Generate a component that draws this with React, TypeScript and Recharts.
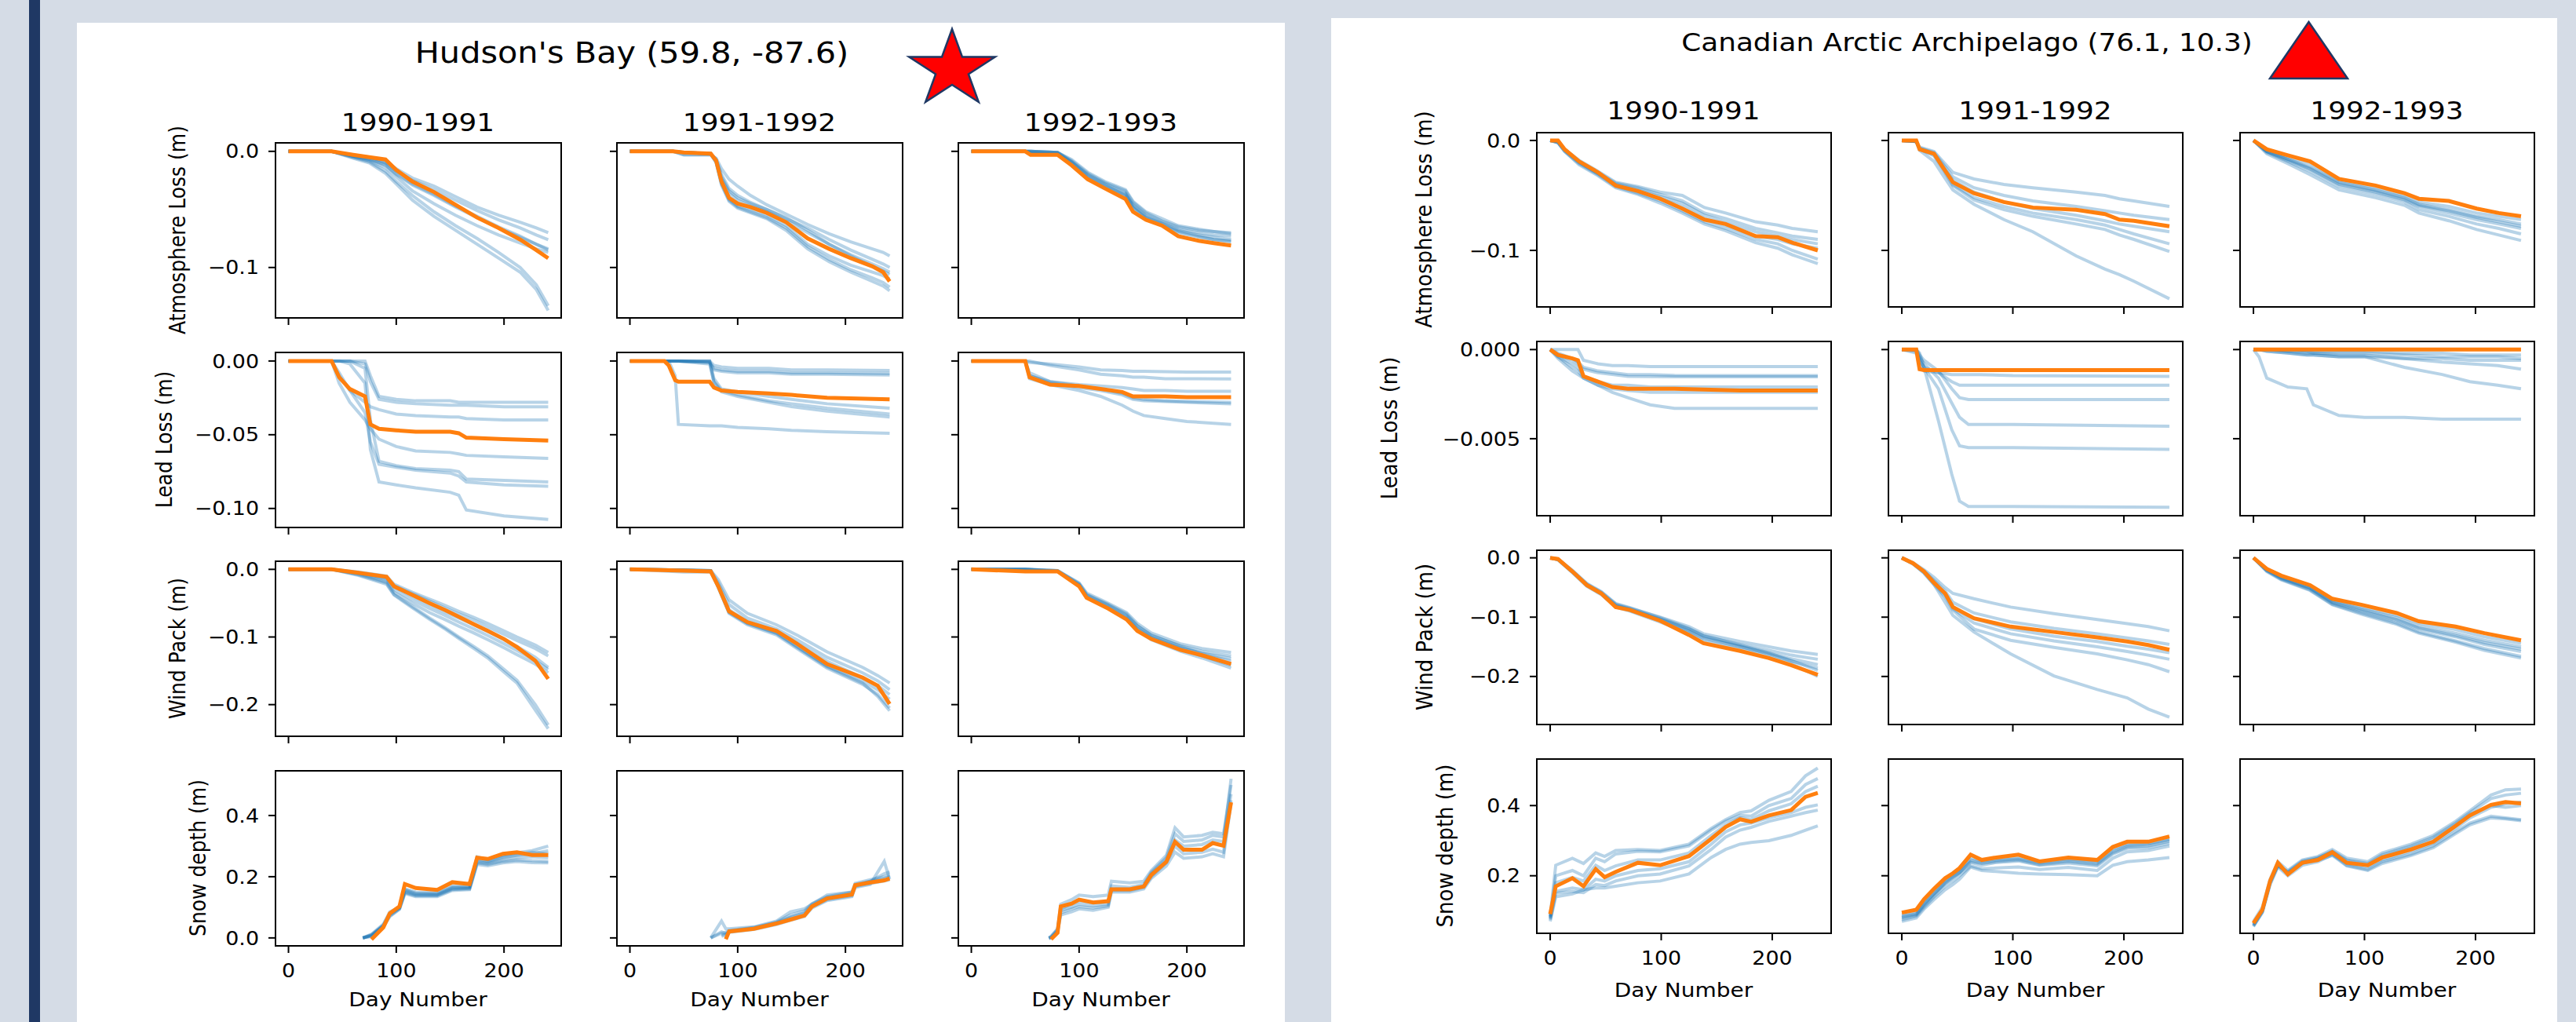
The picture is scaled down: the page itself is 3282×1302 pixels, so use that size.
import React from 'react';
import { LineChart, Line, XAxis, YAxis, ReferenceArea } from 'recharts';

// ---------------- shared labels ----------------
const YEARS = ['1990-1991', '1991-1992', '1992-1993'];
const ROW_LABELS = ['Atmosphere Loss (m)', 'Lead Loss (m)', 'Wind Pack (m)', 'Snow depth (m)'];
const HB_TITLE = "Hudson's Bay (59.8, -87.6)";
const CAA_TITLE = 'Canadian Arctic Archipelago (76.1, 10.3)';
const X_LABEL = 'Day Number';
const X_TICKS = [0, 100, 200];
const X_TICK_LABELS = ['0', '100', '200'];
const X_DOMAIN: [number, number] = [-12.05, 253.05];

const HB_Y_TICKS = [[0, -0.1], [0, -0.05, -0.1], [0, -0.1, -0.2], [0, 0.2, 0.4]];
const HB_Y_TICK_LABELS = [['0.0', '\u22120.1'], ['0.00', '\u22120.05', '\u22120.10'], ['0.0', '\u22120.1', '\u22120.2'], ['0.0', '0.2', '0.4']];
const HB_Y_DOMAINS: [number, number][] = [[-0.1434, 0.0073], [-0.1129, 0.0058], [-0.2468, 0.012], [-0.026, 0.546]];
const CAA_Y_TICKS = [[0, -0.1], [0, -0.005], [0, -0.1, -0.2], [0.2, 0.4]];
const CAA_Y_TICK_LABELS = [['0.0', '\u22120.1'], ['0.000', '\u22120.005'], ['0.0', '\u22120.1', '\u22120.2'], ['0.2', '0.4']];
const CAA_Y_DOMAINS: [number, number][] = [[-0.1514, 0.0071], [-0.00932, 0.000455], [-0.281, 0.0128], [0.036, 0.5326]];

// ---------------- Hudson's Bay data ----------------
const HB_ATM_1_DAYS = [0, 40, 60, 75, 90, 100, 115, 135, 155, 175, 195, 215, 230, 241];
const HB_ATM_1_ORANGE = [0, 0, -0.003, -0.005, -0.007, -0.016, -0.026, -0.035, -0.046, -0.057, -0.066, -0.076, -0.085, -0.092];
const HB_ATM_1_BLUE = [
  [0, 0, -0.003, -0.005, -0.009, -0.015, -0.023, -0.030, -0.039, -0.048, -0.055, -0.061, -0.066, -0.070],
  [0, 0, -0.004, -0.006, -0.010, -0.017, -0.025, -0.033, -0.042, -0.051, -0.059, -0.066, -0.072, -0.076],
  [0, 0, -0.004, -0.007, -0.012, -0.020, -0.029, -0.038, -0.048, -0.057, -0.066, -0.074, -0.080, -0.084],
  [0, 0, -0.005, -0.008, -0.014, -0.022, -0.034, -0.045, -0.055, -0.064, -0.072, -0.079, -0.084, -0.087],
  [0, 0, -0.005, -0.009, -0.017, -0.026, -0.038, -0.052, -0.064, -0.075, -0.087, -0.100, -0.115, -0.133],
  [0, 0, -0.006, -0.010, -0.019, -0.028, -0.042, -0.056, -0.068, -0.080, -0.092, -0.104, -0.119, -0.137],
  [0, 0, -0.004, -0.007, -0.011, -0.019, -0.028, -0.037, -0.047, -0.056, -0.065, -0.073, -0.080, -0.085],
];
const HB_ATM_2_DAYS = [0, 40, 50, 75, 80, 85, 92, 100, 112, 127, 145, 165, 185, 205, 225, 235, 241];
const HB_ATM_2_ORANGE = [0, 0, -0.001, -0.002, -0.008, -0.026, -0.040, -0.045, -0.048, -0.053, -0.061, -0.075, -0.084, -0.092, -0.099, -0.104, -0.112];
const HB_ATM_2_BLUE = [
  [0, 0, -0.003, -0.003, -0.006, -0.015, -0.024, -0.030, -0.038, -0.046, -0.054, -0.063, -0.071, -0.078, -0.084, -0.087, -0.090],
  [0, 0, -0.001, -0.002, -0.007, -0.020, -0.032, -0.038, -0.044, -0.050, -0.058, -0.066, -0.076, -0.085, -0.093, -0.097, -0.100],
  [0, 0, -0.001, -0.002, -0.008, -0.024, -0.036, -0.042, -0.047, -0.052, -0.060, -0.070, -0.080, -0.089, -0.097, -0.101, -0.104],
  [0, 0, -0.003, -0.003, -0.009, -0.027, -0.041, -0.047, -0.050, -0.055, -0.064, -0.080, -0.090, -0.098, -0.104, -0.107, -0.110],
  [0, 0, -0.001, -0.002, -0.009, -0.028, -0.042, -0.048, -0.052, -0.057, -0.066, -0.082, -0.093, -0.102, -0.109, -0.113, -0.117],
  [0, 0, -0.001, -0.002, -0.010, -0.029, -0.043, -0.049, -0.053, -0.058, -0.068, -0.084, -0.095, -0.104, -0.112, -0.116, -0.120],
  [0, 0, -0.001, -0.002, -0.007, -0.022, -0.034, -0.040, -0.045, -0.050, -0.057, -0.068, -0.080, -0.090, -0.099, -0.103, -0.106],
];
const HB_ATM_3_DAYS = [0, 50, 55, 80, 93, 108, 124, 143, 150, 162, 177, 192, 211, 225, 241];
const HB_ATM_3_ORANGE = [0, 0, -0.003, -0.003, -0.012, -0.024, -0.032, -0.041, -0.052, -0.059, -0.064, -0.073, -0.077, -0.079, -0.081];
const HB_ATM_3_BLUE = [
  [0, 0, 0, -0.001, -0.008, -0.019, -0.027, -0.034, -0.044, -0.053, -0.060, -0.065, -0.068, -0.069, -0.070],
  [0, 0, 0, -0.001, -0.009, -0.020, -0.028, -0.036, -0.046, -0.055, -0.061, -0.067, -0.070, -0.072, -0.073],
  [0, 0, -0.001, -0.002, -0.010, -0.022, -0.030, -0.037, -0.048, -0.057, -0.062, -0.068, -0.072, -0.074, -0.076],
  [0, 0, 0, -0.001, -0.009, -0.021, -0.029, -0.038, -0.047, -0.056, -0.063, -0.069, -0.073, -0.076, -0.078],
  [0, 0, 0, -0.001, -0.007, -0.018, -0.026, -0.033, -0.043, -0.052, -0.058, -0.064, -0.067, -0.069, -0.071],
  [0, 0, -0.001, -0.002, -0.011, -0.023, -0.031, -0.039, -0.049, -0.058, -0.064, -0.070, -0.074, -0.076, -0.077],
];

const HB_LEAD_1_DAYS = [0, 40, 47, 57, 71, 76, 84, 100, 118, 150, 158, 165, 200, 241];
const HB_LEAD_1_ORANGE = [0, 0, -0.011, -0.019, -0.024, -0.043, -0.046, -0.047, -0.048, -0.048, -0.049, -0.052, -0.053, -0.054];
const HB_LEAD_1_BLUE = [
  [0, 0, 0, 0, 0, -0.010, -0.024, -0.026, -0.027, -0.027, -0.028, -0.028, -0.028, -0.028],
  [0, 0, 0, 0, -0.002, -0.014, -0.026, -0.028, -0.029, -0.030, -0.030, -0.030, -0.031, -0.031],
  [0, 0, -0.010, -0.020, -0.028, -0.031, -0.033, -0.036, -0.037, -0.038, -0.038, -0.039, -0.040, -0.040],
  [0, 0, -0.015, -0.028, -0.040, -0.046, -0.053, -0.058, -0.061, -0.062, -0.063, -0.064, -0.065, -0.066],
  [0, 0, 0, 0, -0.005, -0.040, -0.068, -0.071, -0.073, -0.074, -0.075, -0.080, -0.081, -0.082],
  [0, 0, -0.008, -0.020, -0.035, -0.055, -0.070, -0.072, -0.074, -0.076, -0.078, -0.082, -0.084, -0.085],
  [0, 0, 0, -0.002, -0.015, -0.060, -0.082, -0.084, -0.086, -0.089, -0.091, -0.101, -0.105, -0.1075],
];
const HB_LEAD_2_DAYS = [0, 32, 36, 42, 45, 74, 78, 85, 100, 129, 150, 183, 241];
const HB_LEAD_2_ORANGE = [0, 0, -0.003, -0.013, -0.014, -0.014, -0.018, -0.020, -0.021, -0.022, -0.023, -0.025, -0.026];
const HB_LEAD_2_BLUE = [
  [0, 0, 0, 0, 0, 0, -0.003, -0.004, -0.005, -0.005, -0.006, -0.006, -0.0065],
  [0, 0, 0, 0, 0, -0.001, -0.005, -0.006, -0.007, -0.007, -0.008, -0.008, -0.0085],
  [0, 0, 0, 0, 0, -0.001, -0.006, -0.007, -0.008, -0.008, -0.009, -0.009, -0.0095],
  [0, 0, 0, 0, 0, 0, -0.012, -0.019, -0.021, -0.024, -0.026, -0.029, -0.032],
  [0, 0, 0, 0, 0, -0.002, -0.014, -0.020, -0.023, -0.027, -0.029, -0.032, -0.036],
  [0, 0, 0, 0, 0, 0, -0.015, -0.021, -0.024, -0.028, -0.031, -0.034, -0.038],
  [0, 0, 0, -0.010, -0.043, -0.044, -0.044, -0.044, -0.045, -0.046, -0.047, -0.048, -0.049],
];
const HB_LEAD_3_DAYS = [0, 50, 54, 73, 100, 120, 140, 150, 160, 180, 200, 241];
const HB_LEAD_3_ORANGE = [0, 0, -0.011, -0.016, -0.017, -0.019, -0.021, -0.024, -0.024, -0.024, -0.0245, -0.0246];
const HB_LEAD_3_BLUE = [
  [0, 0, -0.001, -0.002, -0.004, -0.006, -0.0065, -0.007, -0.007, -0.0072, -0.0075, -0.0075],
  [0, 0, 0, -0.003, -0.006, -0.009, -0.010, -0.011, -0.011, -0.012, -0.012, -0.0121],
  [0, 0, -0.010, -0.014, -0.016, -0.017, -0.018, -0.019, -0.020, -0.020, -0.0205, -0.0205],
  [0, 0, -0.008, -0.014, -0.017, -0.019, -0.022, -0.025, -0.026, -0.027, -0.0275, -0.028],
  [0, 0, -0.010, -0.015, -0.018, -0.020, -0.023, -0.026, -0.027, -0.0275, -0.028, -0.029],
  [0, 0, -0.012, -0.016, -0.020, -0.024, -0.030, -0.034, -0.037, -0.039, -0.041, -0.043],
];

const HB_WIND_1_DAYS = [0, 40, 65, 91, 98, 115, 131, 145, 158, 172, 185, 200, 212, 229, 241];
const HB_WIND_1_ORANGE = [0, 0, -0.005, -0.011, -0.025, -0.038, -0.050, -0.060, -0.070, -0.081, -0.091, -0.103, -0.115, -0.135, -0.162];
const HB_WIND_1_BLUE = [
  [0, 0, -0.004, -0.010, -0.022, -0.034, -0.044, -0.053, -0.062, -0.071, -0.080, -0.091, -0.100, -0.112, -0.123],
  [0, 0, -0.005, -0.012, -0.024, -0.036, -0.047, -0.057, -0.066, -0.075, -0.085, -0.096, -0.105, -0.117, -0.128],
  [0, 0, -0.006, -0.015, -0.030, -0.045, -0.058, -0.068, -0.078, -0.088, -0.098, -0.110, -0.120, -0.135, -0.148],
  [0, 0, -0.007, -0.018, -0.034, -0.050, -0.064, -0.074, -0.084, -0.094, -0.104, -0.116, -0.126, -0.140, -0.153],
  [0, 0, -0.008, -0.020, -0.037, -0.055, -0.072, -0.086, -0.100, -0.114, -0.128, -0.148, -0.164, -0.200, -0.230],
  [0, 0, -0.009, -0.022, -0.038, -0.057, -0.074, -0.088, -0.102, -0.117, -0.131, -0.152, -0.168, -0.208, -0.2355],
  [0, 0, -0.005, -0.013, -0.026, -0.040, -0.053, -0.063, -0.072, -0.082, -0.092, -0.104, -0.114, -0.130, -0.145],
];
const HB_WIND_2_DAYS = [0, 50, 75, 82, 92, 109, 136, 156, 183, 216, 230, 241];
const HB_WIND_2_ORANGE = [0, -0.002, -0.003, -0.025, -0.062, -0.078, -0.091, -0.111, -0.140, -0.160, -0.172, -0.199];
const HB_WIND_2_BLUE = [
  [0, -0.001, -0.002, -0.015, -0.045, -0.065, -0.082, -0.098, -0.122, -0.145, -0.157, -0.168],
  [0, -0.001, -0.002, -0.020, -0.052, -0.072, -0.088, -0.105, -0.130, -0.153, -0.165, -0.178],
  [0, -0.004, -0.004, -0.024, -0.060, -0.077, -0.092, -0.110, -0.136, -0.160, -0.172, -0.185],
  [0, -0.001, -0.002, -0.026, -0.064, -0.080, -0.094, -0.115, -0.143, -0.165, -0.178, -0.192],
  [0, -0.001, -0.003, -0.027, -0.065, -0.082, -0.097, -0.118, -0.146, -0.170, -0.185, -0.205],
  [0, -0.001, -0.002, -0.026, -0.063, -0.080, -0.095, -0.116, -0.144, -0.168, -0.188, -0.209],
];
const HB_WIND_3_DAYS = [0, 50, 80, 100, 107, 127, 144, 154, 167, 194, 214, 241];
const HB_WIND_3_ORANGE = [0, -0.003, -0.003, -0.025, -0.042, -0.058, -0.074, -0.091, -0.103, -0.119, -0.127, -0.140];
const HB_WIND_3_BLUE = [
  [0, 0, -0.002, -0.020, -0.035, -0.050, -0.064, -0.080, -0.094, -0.110, -0.117, -0.123],
  [0, 0, -0.002, -0.022, -0.038, -0.053, -0.068, -0.084, -0.098, -0.113, -0.121, -0.128],
  [0, 0, -0.003, -0.023, -0.040, -0.055, -0.070, -0.087, -0.100, -0.116, -0.124, -0.132],
  [0, 0, -0.002, -0.021, -0.037, -0.052, -0.066, -0.083, -0.097, -0.114, -0.125, -0.136],
  [0, -0.001, -0.003, -0.024, -0.041, -0.057, -0.072, -0.089, -0.102, -0.118, -0.128, -0.142],
  [0, 0, -0.003, -0.024, -0.042, -0.058, -0.073, -0.090, -0.104, -0.121, -0.131, -0.146],
];

const HB_SNOW_1_DAYS = [69, 77, 88, 94, 103, 108, 118, 138, 152, 168, 175, 185, 199, 212, 226, 241];
const HB_SNOW_1_ORANGE = [null, -0.005, 0.034, 0.080, 0.103, 0.176, 0.163, 0.157, 0.182, 0.176, 0.262, 0.258, 0.275, 0.280, 0.271, 0.271];
const HB_SNOW_1_BLUE = [
  [0, 0.010, 0.040, 0.075, 0.098, 0.150, 0.140, 0.140, 0.160, 0.160, 0.245, 0.240, 0.250, 0.255, 0.252, 0.250],
  [0, 0.005, 0.036, 0.070, 0.093, 0.145, 0.135, 0.135, 0.155, 0.158, 0.240, 0.236, 0.245, 0.250, 0.246, 0.245],
  [0, 0.012, 0.045, 0.085, 0.100, 0.160, 0.150, 0.148, 0.170, 0.168, 0.265, 0.255, 0.270, 0.278, 0.285, 0.300],
  [0, 0.008, 0.040, 0.078, 0.097, 0.155, 0.143, 0.142, 0.163, 0.165, 0.252, 0.248, 0.262, 0.270, 0.275, 0.285],
  [0, 0.006, 0.038, 0.072, 0.095, 0.148, 0.138, 0.138, 0.158, 0.162, 0.248, 0.244, 0.255, 0.262, 0.265, 0.262],
  [0, 0.009, 0.042, 0.080, 0.099, 0.158, 0.146, 0.145, 0.166, 0.166, 0.258, 0.250, 0.265, 0.272, 0.280, 0.275],
];
const HB_SNOW_2_DAYS = [75, 85, 89, 92, 115, 136, 149, 162, 169, 183, 206, 209, 223, 236, 241];
const HB_SNOW_2_ORANGE = [null, null, -0.004, 0.021, 0.030, 0.047, 0.060, 0.073, 0.103, 0.129, 0.142, 0.172, 0.181, 0.188, 0.194];
const HB_SNOW_2_BLUE = [
  [0, 0.055, 0.030, 0.030, 0.036, 0.055, 0.085, 0.095, 0.110, 0.140, 0.150, 0.170, 0.185, 0.195, 0.200],
  [0, 0.020, 0.015, 0.020, 0.030, 0.048, 0.065, 0.078, 0.102, 0.125, 0.138, 0.168, 0.178, 0.186, 0.190],
  [null, 0.005, 0.010, 0.022, 0.033, 0.052, 0.075, 0.088, 0.112, 0.135, 0.150, 0.178, 0.190, 0.200, 0.205],
  [null, 0.010, 0.012, 0.018, 0.028, 0.044, 0.058, 0.070, 0.098, 0.122, 0.135, 0.165, 0.175, 0.250, 0.192],
  [0, 0.015, 0.018, 0.024, 0.034, 0.050, 0.068, 0.082, 0.108, 0.132, 0.145, 0.175, 0.185, 0.210, 0.215],
];
const HB_SNOW_3_DAYS = [72, 74, 80, 83, 93, 100, 113, 127, 130, 147, 160, 167, 181, 189, 197, 214, 224, 234, 241];
const HB_SNOW_3_ORANGE = [null, -0.004, 0.017, 0.103, 0.112, 0.125, 0.116, 0.120, 0.159, 0.159, 0.168, 0.206, 0.249, 0.314, 0.288, 0.288, 0.310, 0.301, 0.443];
const HB_SNOW_3_BLUE = [
  [0, 0.005, 0.030, 0.110, 0.125, 0.140, 0.135, 0.140, 0.185, 0.180, 0.185, 0.220, 0.270, 0.360, 0.330, 0.335, 0.345, 0.340, 0.500],
  [0, 0.002, 0.025, 0.090, 0.100, 0.110, 0.105, 0.110, 0.160, 0.160, 0.170, 0.210, 0.255, 0.320, 0.300, 0.305, 0.320, 0.315, 0.520],
  [-0.003, 0.0, 0.020, 0.075, 0.085, 0.095, 0.090, 0.100, 0.150, 0.150, 0.160, 0.195, 0.235, 0.280, 0.260, 0.265, 0.275, 0.265, 0.440],
  [0, 0.004, 0.028, 0.095, 0.110, 0.120, 0.115, 0.118, 0.170, 0.165, 0.175, 0.215, 0.262, 0.340, 0.315, 0.320, 0.335, 0.330, 0.470],
  [0, 0.001, 0.022, 0.082, 0.095, 0.102, 0.098, 0.105, 0.155, 0.155, 0.165, 0.200, 0.245, 0.300, 0.275, 0.280, 0.290, 0.280, 0.450],
];

// ---------------- Canadian Arctic Archipelago data ----------------
const CAA_ATM_1_DAYS = [0, 7, 13, 26, 43, 59, 79, 99, 119, 139, 158, 185, 205, 218, 241];
const CAA_ATM_1_ORANGE = [0, 0, -0.008, -0.019, -0.029, -0.041, -0.046, -0.053, -0.062, -0.072, -0.076, -0.087, -0.088, -0.093, -0.100];
const CAA_ATM_1_BLUE = [
  [0, -0.001, -0.008, -0.018, -0.028, -0.038, -0.042, -0.047, -0.050, -0.061, -0.066, -0.074, -0.077, -0.080, -0.083],
  [0, -0.001, -0.008, -0.019, -0.029, -0.039, -0.043, -0.049, -0.055, -0.066, -0.071, -0.080, -0.084, -0.087, -0.090],
  [0, -0.002, -0.009, -0.020, -0.030, -0.040, -0.045, -0.051, -0.057, -0.068, -0.074, -0.083, -0.087, -0.090, -0.094],
  [0, -0.002, -0.010, -0.021, -0.031, -0.042, -0.048, -0.055, -0.064, -0.074, -0.080, -0.090, -0.094, -0.100, -0.108],
  [0, -0.002, -0.010, -0.022, -0.032, -0.043, -0.049, -0.057, -0.066, -0.076, -0.082, -0.093, -0.098, -0.104, -0.112],
  [0, -0.001, -0.009, -0.020, -0.030, -0.041, -0.046, -0.053, -0.060, -0.071, -0.077, -0.087, -0.090, -0.094, -0.098],
];
const CAA_ATM_2_DAYS = [0, 13, 16, 29, 36, 46, 65, 92, 118, 157, 183, 196, 209, 241];
const CAA_ATM_2_ORANGE = [0, 0, -0.008, -0.012, -0.023, -0.038, -0.048, -0.056, -0.061, -0.063, -0.067, -0.072, -0.073, -0.078];
const CAA_ATM_2_BLUE = [
  [0, -0.001, -0.006, -0.010, -0.018, -0.029, -0.035, -0.040, -0.043, -0.047, -0.050, -0.053, -0.055, -0.060],
  [0, -0.001, -0.007, -0.011, -0.020, -0.033, -0.043, -0.050, -0.055, -0.060, -0.064, -0.066, -0.068, -0.072],
  [0, -0.001, -0.007, -0.012, -0.022, -0.036, -0.047, -0.056, -0.062, -0.068, -0.073, -0.076, -0.078, -0.083],
  [0, -0.001, -0.008, -0.013, -0.024, -0.040, -0.052, -0.060, -0.066, -0.072, -0.077, -0.081, -0.085, -0.094],
  [0, -0.001, -0.008, -0.014, -0.025, -0.041, -0.054, -0.063, -0.069, -0.076, -0.081, -0.086, -0.090, -0.101],
  [0, -0.001, -0.009, -0.019, -0.030, -0.045, -0.058, -0.072, -0.083, -0.105, -0.117, -0.122, -0.128, -0.144],
];
const CAA_ATM_3_DAYS = [0, 12, 31, 51, 77, 110, 136, 149, 176, 201, 221, 241];
const CAA_ATM_3_ORANGE = [0, -0.008, -0.0135, -0.019, -0.035, -0.041, -0.048, -0.053, -0.055, -0.062, -0.066, -0.069];
const CAA_ATM_3_BLUE = [
  [0, -0.009, -0.015, -0.021, -0.036, -0.043, -0.050, -0.056, -0.060, -0.066, -0.069, -0.072],
  [0, -0.010, -0.017, -0.024, -0.038, -0.045, -0.052, -0.058, -0.063, -0.069, -0.072, -0.076],
  [0, -0.010, -0.018, -0.026, -0.040, -0.047, -0.054, -0.060, -0.066, -0.072, -0.076, -0.080],
  [0, -0.011, -0.019, -0.028, -0.042, -0.049, -0.056, -0.063, -0.069, -0.076, -0.080, -0.085],
  [0, -0.012, -0.021, -0.031, -0.045, -0.052, -0.059, -0.066, -0.073, -0.081, -0.086, -0.091],
  [0, -0.010, -0.017, -0.025, -0.039, -0.046, -0.053, -0.059, -0.064, -0.070, -0.074, -0.078],
];

const CAA_LEAD_1_DAYS = [0, 7, 20, 25, 30, 43, 56, 70, 90, 112, 171, 241];
const CAA_LEAD_1_ORANGE = [0, -0.0003, -0.0005, -0.0006, -0.0015, -0.0018, -0.0021, -0.0022, -0.0022, -0.0022, -0.0023, -0.0023];
const CAA_LEAD_1_BLUE = [
  [0, 0, 0, 0, -0.0006, -0.0008, -0.0009, -0.0009, -0.00095, -0.00095, -0.00095, -0.00095],
  [0, -0.0002, -0.0005, -0.0007, -0.0010, -0.0012, -0.0013, -0.0014, -0.0014, -0.00145, -0.00146, -0.00146],
  [0, -0.0003, -0.0006, -0.0008, -0.0011, -0.0013, -0.0014, -0.0015, -0.00152, -0.00153, -0.00153, -0.00153],
  [0, -0.0004, -0.0008, -0.0010, -0.0015, -0.0018, -0.0020, -0.0020, -0.0021, -0.0021, -0.0021, -0.0021],
  [0, -0.0004, -0.0010, -0.0012, -0.0016, -0.0020, -0.0022, -0.0023, -0.0024, -0.0024, -0.0024, -0.0024],
  [0, -0.0005, -0.0012, -0.0014, -0.0016, -0.0020, -0.0024, -0.0027, -0.0031, -0.0033, -0.0033, -0.0033],
];
const CAA_LEAD_2_DAYS = [0, 13, 16, 20, 33, 45, 52, 60, 70, 100, 241];
const CAA_LEAD_2_ORANGE = [0, 0, -0.0011, -0.00115, -0.00115, -0.00115, -0.00115, -0.00115, -0.00115, -0.00115, -0.00115];
const CAA_LEAD_2_BLUE = [
  [0, 0, -0.0008, -0.0012, -0.0013, -0.0014, -0.0014, -0.0014, -0.0014, -0.00146, -0.0015],
  [0, -0.0002, -0.0006, -0.0010, -0.0013, -0.0018, -0.0020, -0.0020, -0.0020, -0.0020, -0.0020],
  [0, 0, -0.0003, -0.0006, -0.0012, -0.0022, -0.0027, -0.0028, -0.0028, -0.0028, -0.0028],
  [0, 0, -0.0004, -0.0008, -0.0016, -0.0030, -0.0038, -0.0042, -0.0042, -0.0042, -0.0043],
  [0, -0.0001, -0.0005, -0.0010, -0.0022, -0.0045, -0.0054, -0.0055, -0.0055, -0.0055, -0.0056],
  [0, 0, -0.0002, -0.0010, -0.0040, -0.0070, -0.0085, -0.0088, -0.0088, -0.0088, -0.00885],
];
const CAA_LEAD_3_DAYS = [0, 5, 12, 31, 48, 54, 77, 100, 136, 170, 195, 220, 241];
const CAA_LEAD_3_ORANGE = [0, 0, 0, 0, 0, 0, 0, 0, 0, 0, 0, 0, 0];
const CAA_LEAD_3_BLUE = [
  [0, -0.0004, -0.0016, -0.0021, -0.0022, -0.0031, -0.0037, -0.0038, -0.0038, -0.0039, -0.0039, -0.0039, -0.0039],
  [0, 0, -0.0001, -0.0002, -0.0003, -0.0003, -0.0004, -0.0004, -0.0010, -0.0014, -0.0018, -0.0020, -0.0022],
  [0, 0, 0, -0.0001, -0.0002, -0.0002, -0.0003, -0.0003, -0.0005, -0.0007, -0.0008, -0.0009, -0.0011],
  [0, 0, -0.0001, -0.0002, -0.0003, -0.0003, -0.0004, -0.0004, -0.0005, -0.0005, -0.0006, -0.0006, -0.0006],
  [0, 0, 0, -0.0001, -0.0001, -0.0002, -0.0002, -0.0002, -0.0003, -0.0004, -0.0004, -0.0004, -0.0005],
  [0, 0, 0, 0, -0.0001, -0.0001, -0.0001, -0.0001, -0.0002, -0.0002, -0.0003, -0.0003, -0.0003],
];

const CAA_WIND_1_DAYS = [0, 7, 20, 33, 46, 59, 72, 99, 125, 138, 171, 197, 217, 241];
const CAA_WIND_1_ORANGE = [0, -0.002, -0.023, -0.046, -0.060, -0.083, -0.088, -0.106, -0.130, -0.144, -0.157, -0.169, -0.181, -0.197];
const CAA_WIND_1_BLUE = [
  [0, -0.002, -0.022, -0.044, -0.058, -0.078, -0.085, -0.100, -0.116, -0.128, -0.141, -0.150, -0.157, -0.163],
  [0, -0.003, -0.024, -0.046, -0.060, -0.080, -0.087, -0.103, -0.120, -0.132, -0.146, -0.156, -0.164, -0.171],
  [0, -0.003, -0.025, -0.048, -0.062, -0.082, -0.089, -0.106, -0.124, -0.136, -0.150, -0.161, -0.170, -0.180],
  [0, -0.002, -0.021, -0.043, -0.057, -0.077, -0.084, -0.101, -0.119, -0.131, -0.147, -0.160, -0.173, -0.190],
  [0, -0.003, -0.024, -0.047, -0.061, -0.083, -0.090, -0.108, -0.127, -0.140, -0.154, -0.166, -0.178, -0.200],
  [0, -0.002, -0.023, -0.045, -0.059, -0.080, -0.086, -0.104, -0.122, -0.134, -0.149, -0.162, -0.174, -0.186],
];
const CAA_WIND_2_DAYS = [0, 10, 20, 29, 39, 46, 65, 98, 137, 176, 203, 222, 241];
const CAA_WIND_2_ORANGE = [0, -0.009, -0.023, -0.042, -0.060, -0.083, -0.102, -0.116, -0.125, -0.134, -0.141, -0.147, -0.155];
const CAA_WIND_2_BLUE = [
  [0, -0.008, -0.020, -0.033, -0.050, -0.060, -0.069, -0.083, -0.094, -0.104, -0.111, -0.116, -0.123],
  [0, -0.009, -0.022, -0.038, -0.056, -0.075, -0.093, -0.108, -0.119, -0.128, -0.135, -0.140, -0.146],
  [0, -0.009, -0.023, -0.040, -0.060, -0.082, -0.103, -0.120, -0.132, -0.141, -0.149, -0.154, -0.160],
  [0, -0.010, -0.024, -0.042, -0.063, -0.086, -0.110, -0.128, -0.140, -0.150, -0.158, -0.164, -0.171],
  [0, -0.010, -0.025, -0.045, -0.066, -0.088, -0.120, -0.139, -0.151, -0.162, -0.172, -0.180, -0.192],
  [0, -0.010, -0.026, -0.045, -0.075, -0.097, -0.125, -0.162, -0.199, -0.222, -0.236, -0.255, -0.2685],
];
const CAA_WIND_3_DAYS = [0, 12, 25, 51, 71, 97, 129, 149, 182, 208, 241];
const CAA_WIND_3_ORANGE = [0, -0.0185, -0.030, -0.046, -0.069, -0.079, -0.093, -0.107, -0.116, -0.127, -0.139];
const CAA_WIND_3_BLUE = [
  [0, -0.019, -0.031, -0.048, -0.071, -0.083, -0.097, -0.110, -0.121, -0.133, -0.144],
  [0, -0.020, -0.033, -0.050, -0.073, -0.086, -0.101, -0.115, -0.127, -0.139, -0.150],
  [0, -0.021, -0.035, -0.052, -0.076, -0.090, -0.106, -0.120, -0.133, -0.146, -0.158],
  [0, -0.022, -0.036, -0.054, -0.078, -0.093, -0.110, -0.125, -0.140, -0.153, -0.166],
  [0, -0.021, -0.034, -0.051, -0.075, -0.088, -0.104, -0.118, -0.131, -0.143, -0.154],
  [0, -0.023, -0.037, -0.055, -0.079, -0.095, -0.112, -0.127, -0.142, -0.156, -0.169],
];

const CAA_SNOW_1_DAYS = [0, 5, 20, 30, 41, 49, 59, 79, 99, 125, 145, 158, 171, 181, 197, 217, 230, 241];
const CAA_SNOW_1_ORANGE = [0.091, 0.170, 0.193, 0.170, 0.219, 0.196, 0.211, 0.237, 0.230, 0.256, 0.305, 0.339, 0.361, 0.354, 0.372, 0.387, 0.425, 0.436];
const CAA_SNOW_1_BLUE = [
  [0.085, 0.230, 0.250, 0.235, 0.265, 0.255, 0.272, 0.275, 0.272, 0.290, 0.335, 0.360, 0.380, 0.385, 0.415, 0.440, 0.485, 0.507],
  [0.080, 0.200, 0.215, 0.200, 0.250, 0.240, 0.262, 0.270, 0.268, 0.285, 0.330, 0.355, 0.372, 0.370, 0.400, 0.420, 0.460, 0.477],
  [0.083, 0.180, 0.195, 0.185, 0.230, 0.215, 0.228, 0.245, 0.245, 0.265, 0.315, 0.345, 0.365, 0.360, 0.385, 0.405, 0.440, 0.455],
  [0.078, 0.155, 0.165, 0.160, 0.190, 0.185, 0.200, 0.215, 0.220, 0.240, 0.290, 0.325, 0.345, 0.350, 0.365, 0.380, 0.395, 0.402],
  [0.075, 0.150, 0.155, 0.152, 0.175, 0.172, 0.185, 0.200, 0.205, 0.228, 0.275, 0.310, 0.330, 0.338, 0.355, 0.370, 0.380, 0.387],
  [0.070, 0.140, 0.148, 0.160, 0.165, 0.165, 0.170, 0.180, 0.185, 0.205, 0.252, 0.275, 0.290, 0.295, 0.300, 0.315, 0.330, 0.342],
];
const CAA_SNOW_2_DAYS = [0, 13, 20, 29, 39, 46, 52, 62, 72, 85, 105, 124, 150, 176, 190, 203, 222, 241];
const CAA_SNOW_2_ORANGE = [0.095, 0.103, 0.133, 0.163, 0.193, 0.207, 0.222, 0.260, 0.245, 0.252, 0.260, 0.241, 0.252, 0.245, 0.282, 0.297, 0.297, 0.312];
const CAA_SNOW_2_BLUE = [
  [0.090, 0.098, 0.128, 0.158, 0.190, 0.205, 0.218, 0.250, 0.242, 0.248, 0.252, 0.240, 0.248, 0.240, 0.275, 0.290, 0.292, 0.305],
  [0.085, 0.092, 0.120, 0.150, 0.182, 0.198, 0.210, 0.240, 0.235, 0.240, 0.245, 0.232, 0.240, 0.232, 0.265, 0.282, 0.285, 0.298],
  [0.080, 0.088, 0.115, 0.145, 0.178, 0.195, 0.208, 0.238, 0.230, 0.238, 0.242, 0.230, 0.236, 0.228, 0.262, 0.278, 0.280, 0.292],
  [0.082, 0.090, 0.118, 0.148, 0.180, 0.196, 0.210, 0.245, 0.238, 0.244, 0.248, 0.236, 0.244, 0.236, 0.270, 0.286, 0.290, 0.302],
  [0.075, 0.085, 0.110, 0.140, 0.170, 0.185, 0.200, 0.228, 0.220, 0.222, 0.225, 0.218, 0.224, 0.215, 0.250, 0.268, 0.272, 0.285],
  [0.070, 0.080, 0.105, 0.132, 0.160, 0.175, 0.190, 0.225, 0.215, 0.212, 0.207, 0.205, 0.203, 0.200, 0.230, 0.240, 0.245, 0.252],
];
const CAA_SNOW_3_DAYS = [0, 8, 15, 22, 31, 44, 58, 71, 84, 103, 116, 142, 162, 182, 195, 214, 227, 241];
const CAA_SNOW_3_ORANGE = [0.065, 0.103, 0.185, 0.237, 0.204, 0.237, 0.245, 0.267, 0.237, 0.230, 0.252, 0.275, 0.297, 0.342, 0.372, 0.402, 0.410, 0.406];
const CAA_SNOW_3_BLUE = [
  [0.070, 0.110, 0.190, 0.240, 0.215, 0.245, 0.255, 0.275, 0.250, 0.240, 0.265, 0.290, 0.315, 0.355, 0.385, 0.430, 0.445, 0.447],
  [0.060, 0.100, 0.180, 0.230, 0.205, 0.235, 0.250, 0.270, 0.245, 0.235, 0.260, 0.285, 0.310, 0.350, 0.380, 0.420, 0.430, 0.435],
  [0.055, 0.095, 0.175, 0.225, 0.200, 0.230, 0.240, 0.260, 0.235, 0.225, 0.245, 0.270, 0.292, 0.335, 0.365, 0.395, 0.405, 0.410],
  [0.058, 0.098, 0.178, 0.230, 0.210, 0.240, 0.248, 0.262, 0.230, 0.218, 0.240, 0.262, 0.285, 0.325, 0.350, 0.370, 0.365, 0.360],
  [0.062, 0.102, 0.182, 0.232, 0.208, 0.236, 0.244, 0.258, 0.228, 0.215, 0.235, 0.258, 0.280, 0.320, 0.345, 0.365, 0.362, 0.357],
  [0.057, 0.097, 0.185, 0.228, 0.212, 0.242, 0.252, 0.268, 0.242, 0.230, 0.255, 0.280, 0.305, 0.345, 0.375, 0.400, 0.395, 0.400],
];

// ---------------- styling / layout ----------------
const SX = 1.12;
const FONT = '"DejaVu Sans", "Liberation Sans", sans-serif';
const BLUE = '#1f77b4';
const ORANGE = '#ff7f0e';
const AXW = 140;
const AXH = 70;
const TOPM = 24;

type Sub = { days: number[]; orange: (number | null)[]; blue: (number | null)[][] };
const mk = (days: number[], orange: (number | null)[], blue: (number | null)[][]): Sub => ({ days, orange, blue });

const HB_SUBS: Sub[][] = [
  [mk(HB_ATM_1_DAYS, HB_ATM_1_ORANGE, HB_ATM_1_BLUE), mk(HB_ATM_2_DAYS, HB_ATM_2_ORANGE, HB_ATM_2_BLUE), mk(HB_ATM_3_DAYS, HB_ATM_3_ORANGE, HB_ATM_3_BLUE)],
  [mk(HB_LEAD_1_DAYS, HB_LEAD_1_ORANGE, HB_LEAD_1_BLUE), mk(HB_LEAD_2_DAYS, HB_LEAD_2_ORANGE, HB_LEAD_2_BLUE), mk(HB_LEAD_3_DAYS, HB_LEAD_3_ORANGE, HB_LEAD_3_BLUE)],
  [mk(HB_WIND_1_DAYS, HB_WIND_1_ORANGE, HB_WIND_1_BLUE), mk(HB_WIND_2_DAYS, HB_WIND_2_ORANGE, HB_WIND_2_BLUE), mk(HB_WIND_3_DAYS, HB_WIND_3_ORANGE, HB_WIND_3_BLUE)],
  [mk(HB_SNOW_1_DAYS, HB_SNOW_1_ORANGE, HB_SNOW_1_BLUE), mk(HB_SNOW_2_DAYS, HB_SNOW_2_ORANGE, HB_SNOW_2_BLUE), mk(HB_SNOW_3_DAYS, HB_SNOW_3_ORANGE, HB_SNOW_3_BLUE)],
];
const CAA_SUBS: Sub[][] = [
  [mk(CAA_ATM_1_DAYS, CAA_ATM_1_ORANGE, CAA_ATM_1_BLUE), mk(CAA_ATM_2_DAYS, CAA_ATM_2_ORANGE, CAA_ATM_2_BLUE), mk(CAA_ATM_3_DAYS, CAA_ATM_3_ORANGE, CAA_ATM_3_BLUE)],
  [mk(CAA_LEAD_1_DAYS, CAA_LEAD_1_ORANGE, CAA_LEAD_1_BLUE), mk(CAA_LEAD_2_DAYS, CAA_LEAD_2_ORANGE, CAA_LEAD_2_BLUE), mk(CAA_LEAD_3_DAYS, CAA_LEAD_3_ORANGE, CAA_LEAD_3_BLUE)],
  [mk(CAA_WIND_1_DAYS, CAA_WIND_1_ORANGE, CAA_WIND_1_BLUE), mk(CAA_WIND_2_DAYS, CAA_WIND_2_ORANGE, CAA_WIND_2_BLUE), mk(CAA_WIND_3_DAYS, CAA_WIND_3_ORANGE, CAA_WIND_3_BLUE)],
  [mk(CAA_SNOW_1_DAYS, CAA_SNOW_1_ORANGE, CAA_SNOW_1_BLUE), mk(CAA_SNOW_2_DAYS, CAA_SNOW_2_ORANGE, CAA_SNOW_2_BLUE), mk(CAA_SNOW_3_DAYS, CAA_SNOW_3_ORANGE, CAA_SNOW_3_BLUE)],
];

type Panel = {
  subs: Sub[][]; domains: [number, number][]; ticks: number[][]; tickLabels: string[][];
  cols: number[]; rows: number[]; w: number; h: number;
  title: string; titleX: number; titleY: number; titleFont: number;
  colTitleY: number; colTitleFont: number; ylabelX: number[]; ylabelFont: number;
  xlabelY: number; tickFont: number;
};

const PANELS: Panel[] = [
  {
    subs: HB_SUBS, domains: HB_Y_DOMAINS, ticks: HB_Y_TICKS, tickLabels: HB_Y_TICK_LABELS,
    cols: [351, 786, 1221], rows: [182, 449, 715, 982], w: 363, h: 222,
    title: HB_TITLE, titleX: 805, titleY: 80, titleFont: 37,
    colTitleY: 167, colTitleFont: 32, ylabelX: [226, 209, 226, 252], ylabelFont: 25,
    xlabelY: 1282, tickFont: 24,
  },
  {
    subs: CAA_SUBS, domains: CAA_Y_DOMAINS, ticks: CAA_Y_TICKS, tickLabels: CAA_Y_TICK_LABELS,
    cols: [1958, 2406, 2854], rows: [169, 435, 701, 967], w: 374, h: 221,
    title: CAA_TITLE, titleX: 2506, titleY: 65, titleFont: 32,
    colTitleY: 152, colTitleFont: 32, ylabelX: [1814, 1770, 1815, 1841], ylabelFont: 26,
    xlabelY: 1270, tickFont: 24,
  },
];

const labelFor = (ticks: number[], labels: string[], v: number) => {
  const i = ticks.findIndex((t) => Math.abs(t - v) < 1e-9);
  return i >= 0 ? labels[i] : String(v);
};

function Subplot(props: {
  left: number; top: number; w: number; h: number; sub: Sub; yDomain: [number, number];
  yTicks: number[]; yLabels: string[]; showY: boolean; showX: boolean; tickFont: number;
}) {
  const { left, top, w, h, sub, yDomain, yTicks, yLabels, showY, showX, tickFont } = props;
  const data = sub.days.map((d, i) => {
    const r: any = { day: d, o: sub.orange[i] };
    sub.blue.forEach((b, j) => { r['b' + j] = b[i]; });
    return r;
  });
  const yTick = (p: any) => {
    if (!showY) return <g />;
    return (
      <text transform={`translate(${p.x},${p.y}) scale(${SX},1)`} textAnchor="end" dy="0.36em"
        fontSize={tickFont} fontFamily={FONT} fill="#000">
        {labelFor(yTicks, yLabels, p.payload.value)}
      </text>
    );
  };
  const xTick = (p: any) => {
    if (!showX) return <g />;
    return (
      <text transform={`translate(${p.x},${p.y}) scale(${SX},1)`} textAnchor="middle" dy="0.73em"
        fontSize={tickFont} fontFamily={FONT} fill="#000">
        {labelFor(X_TICKS, X_TICK_LABELS, p.payload.value)}
      </text>
    );
  };
  return (
    <div style={{ position: 'absolute', left: left - AXW, top: top - TOPM }}>
      <LineChart width={w + AXW + 2} height={h + AXH + TOPM + 1} data={data}
        margin={{ top: TOPM, right: 1, left: 0, bottom: 0 }}>
        <XAxis type="number" dataKey="day" domain={X_DOMAIN} ticks={X_TICKS} allowDataOverflow interval={0}
          height={AXH} tickSize={9} tickMargin={13} axisLine={false} stroke="#000"
          tickLine={{ stroke: '#000', strokeWidth: 2 }} tick={xTick} />
        <YAxis type="number" domain={yDomain} ticks={yTicks} allowDataOverflow interval={0}
          width={AXW} tickSize={9} tickMargin={12} axisLine={false} stroke="#000"
          tickLine={{ stroke: '#000', strokeWidth: 2 }} tick={yTick} />
        {sub.blue.map((_, j) => (
          <Line key={j} type="linear" dataKey={'b' + j} stroke={BLUE} strokeOpacity={0.32} strokeWidth={4}
            dot={false} activeDot={false} isAnimationActive={false} connectNulls={false} />
        ))}
        <Line type="linear" dataKey="o" stroke={ORANGE} strokeWidth={5} dot={false} activeDot={false}
          isAnimationActive={false} connectNulls={false} />
        <ReferenceArea x1={X_DOMAIN[0]} x2={X_DOMAIN[1]} y1={yDomain[0]} y2={yDomain[1]}
          fill="none" fillOpacity={0} stroke="#000" strokeWidth={2} ifOverflow="visible" />
      </LineChart>
    </div>
  );
}

function starPoints(cx: number, cy: number, R: number) {
  const pts: string[] = [];
  for (let i = 0; i < 10; i++) {
    const a = -Math.PI / 2 + (i * Math.PI) / 5;
    const rr = i % 2 === 0 ? R : R * 0.382;
    pts.push(`${cx + rr * Math.cos(a) * SX},${cy + rr * Math.sin(a)}`);
  }
  return pts.join(' ');
}

export default function App() {
  return (
    <div style={{ position: 'absolute', left: 0, top: 0, width: 3282, height: 1302, background: '#d5dce6', overflow: 'hidden', fontFamily: FONT }}>
      <div style={{ position: 'absolute', left: 37, top: 0, width: 14, height: 1302, background: '#1f3864' }} />
      <div style={{ position: 'absolute', left: 98, top: 29, width: 1539, height: 1273, background: '#ffffff' }} />
      <div style={{ position: 'absolute', left: 1696, top: 23, width: 1562, height: 1279, background: '#ffffff' }} />
      {PANELS.map((P, pi) =>
        P.subs.map((row, ri) =>
          row.map((sub, ci) => (
            <Subplot key={`${pi}-${ri}-${ci}`} left={P.cols[ci]} top={P.rows[ri]} w={P.w} h={P.h} sub={sub}
              yDomain={P.domains[ri]} yTicks={P.ticks[ri]} yLabels={P.tickLabels[ri]}
              showY={ci === 0} showX={ri === 3} tickFont={P.tickFont} />
          ))
        )
      )}
      <svg width={3282} height={1302} style={{ position: 'absolute', left: 0, top: 0, pointerEvents: 'none' }}>
        {PANELS.map((P, pi) => (
          <g key={pi} fontFamily={FONT} fill="#000">
            <text transform={`translate(${P.titleX},${P.titleY}) scale(${SX},1)`} textAnchor="middle" fontSize={P.titleFont}>{P.title}</text>
            {YEARS.map((yr, ci) => (
              <text key={yr} transform={`translate(${P.cols[ci] + P.w / 2},${P.colTitleY}) scale(${SX},1)`} textAnchor="middle" fontSize={P.colTitleFont}>{yr}</text>
            ))}
            {ROW_LABELS.map((lb, ri) => (
              <text key={lb} transform={`translate(${P.ylabelX[ri]},${P.rows[ri] + P.h / 2}) scale(${SX},1) rotate(-90)`} textAnchor="middle" dy="0.36em" fontSize={P.ylabelFont}>{lb}</text>
            ))}
            {YEARS.map((yr, ci) => (
              <text key={'x' + yr} transform={`translate(${P.cols[ci] + P.w / 2},${P.xlabelY}) scale(${SX},1)`} textAnchor="middle" fontSize={P.tickFont + 1}>{X_LABEL}</text>
            ))}
          </g>
        ))}
        <polygon points={starPoints(1213, 88.4, 51.4)} fill="#ff0000" stroke="#1f3864" strokeWidth={2.5} strokeLinejoin="miter" />
        <polygon points="2941.5,28 2892,100 2991,100" fill="#ff0000" stroke="#1f3864" strokeWidth={2.5} />
      </svg>
    </div>
  );
}
